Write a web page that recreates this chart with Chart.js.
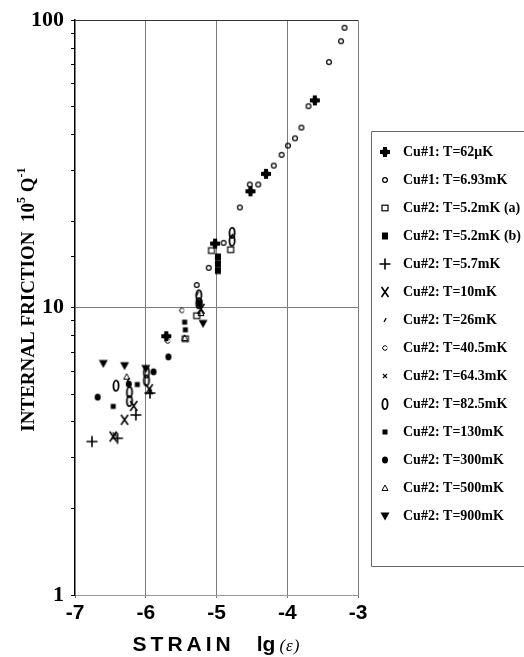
<!DOCTYPE html>
<html><head><meta charset="utf-8">
<script src="https://cdn.jsdelivr.net/npm/chart.js@4.4.0/dist/chart.umd.min.js"></script>
<style>html,body{margin:0;padding:0;background:#fff;}#wrap{position:relative;width:524px;height:657px;}</style>
</head><body><div id="wrap"><canvas id="c" width="524" height="657"></canvas></div>
<script>
// ---- data ----
const seriesLabels = ["Cu#1: T=62\u03bcK","Cu#1: T=6.93mK","Cu#2: T=5.2mK (a)","Cu#2: T=5.2mK (b)","Cu#2: T=5.7mK","Cu#2: T=10mK","Cu#2: T=26mK","Cu#2: T=40.5mK","Cu#2: T=64.3mK","Cu#2: T=82.5mK","Cu#2: T=130mK","Cu#2: T=300mK","Cu#2: T=500mK","Cu#2: T=900mK"];
const xTickValues = [-7,-6,-5,-4,-3];
const yLabelValues = [1,10,100];

const strain_cu1_62uK = [-3.61,-4.30,-4.52,-5.02,-5.71];
const friction_cu1_62uK = [52.6,29.2,25.4,16.7,7.95];
const strain_cu1_693mK = [-3.19,-3.24,-3.41,-3.70,-3.80,-3.89,-3.99,-4.08,-4.19,-4.41,-4.53,-4.67,-4.90,-5.11,-5.28];
const friction_cu1_693mK = [94.1,84.5,71.5,50.2,42.3,38.8,36.6,34.0,31.2,26.8,26.8,22.3,16.8,13.75,11.98];
const strain_cu2_52mK_a = [-5.07,-4.80,-5.28,-5.44];
const friction_cu2_52mK_a = [15.8,15.9,9.37,7.79];
const strain_cu2_52mK_b = [-4.98,-4.98,-4.98,-5.24];
const friction_cu2_52mK_b = [15.0,14.2,13.46,10.36];
const strain_cu2_57mK = [-6.76,-6.40,-6.14,-5.94];
const friction_cu2_57mK = [3.42,3.51,4.23,5.04];
const strain_cu2_10mK = [-6.46,-6.30,-6.17,-5.95,-5.22];
const friction_cu2_10mK = [3.56,4.07,4.55,5.2,9.9];
const strain_cu2_26mK = [-6.25,-5.27,-4.78];
const friction_cu2_26mK = [5.6,11.2,17.8];
const strain_cu2_405mK = [-5.49,-5.69];
const friction_cu2_405mK = [9.78,7.65];
const strain_cu2_643mK = [-6.44,-5.94];
const friction_cu2_643mK = [3.62,5.1];
const strain_cu2_825mK = [-6.42,-6.23,-6.23,-5.99,-5.99,-5.25,-5.25,-4.78,-4.78];
const friction_cu2_825mK = [5.35,5.08,4.73,5.95,5.58,11.04,10.36,18.2,17.1];
const strain_cu2_130mK = [-6.46,-6.12,-5.45,-5.44];
const friction_cu2_130mK = [4.53,5.4,8.9,8.37];
const strain_cu2_300mK = [-6.68,-6.24,-5.89,-5.68];
const friction_cu2_300mK = [4.88,5.42,5.98,6.74];
const strain_cu2_500mK = [-6.27,-5.45,-5.22];
const friction_cu2_500mK = [5.75,7.85,9.57];
const strain_cu2_900mK = [-6.60,-6.30,-6.00,-5.19];
const friction_cu2_900mK = [6.39,6.28,6.14,8.81];

const seriesX = [strain_cu1_62uK,strain_cu1_693mK,strain_cu2_52mK_a,strain_cu2_52mK_b,strain_cu2_57mK,strain_cu2_10mK,strain_cu2_26mK,strain_cu2_405mK,strain_cu2_643mK,strain_cu2_825mK,strain_cu2_130mK,strain_cu2_300mK,strain_cu2_500mK,strain_cu2_900mK];
const seriesY = [friction_cu1_62uK,friction_cu1_693mK,friction_cu2_52mK_a,friction_cu2_52mK_b,friction_cu2_57mK,friction_cu2_10mK,friction_cu2_26mK,friction_cu2_405mK,friction_cu2_643mK,friction_cu2_825mK,friction_cu2_130mK,friction_cu2_300mK,friction_cu2_500mK,friction_cu2_900mK];

// ---- marker glyphs ----
function mk(draw){const s=16;const c=document.createElement('canvas');c.width=s;c.height=s;const g=c.getContext('2d');g.translate(s/2,s/2);g.strokeStyle='#000';g.fillStyle='#000';draw(g);return c;}
const markers = [
  mk(g=>{g.fillRect(-5,-2,10,4);g.fillRect(-2,-5,4,10);g.beginPath();g.arc(0,0,3.2,0,Math.PI*2);g.fill();}),
  mk(g=>{g.lineWidth=1.2;g.beginPath();g.arc(0,0,2.4,0,Math.PI*2);g.stroke();}),
  mk(g=>{g.lineWidth=1.2;g.strokeRect(-3,-2.8,6,5.6);}),
  mk(g=>{g.fillRect(-3,-3.5,6,7);}),
  mk(g=>{g.lineWidth=1.6;g.beginPath();g.moveTo(-5.5,0);g.lineTo(5.5,0);g.moveTo(0,-5.5);g.lineTo(0,5.5);g.stroke();}),
  mk(g=>{g.lineWidth=1.6;g.beginPath();g.moveTo(-3.5,-5);g.lineTo(3.5,5);g.moveTo(3.5,-5);g.lineTo(-3.5,5);g.stroke();}),
  mk(g=>{g.lineWidth=1.3;g.beginPath();g.moveTo(-1,1.8);g.lineTo(1.2,-1.8);g.stroke();}),
  mk(g=>{g.lineWidth=1;g.beginPath();g.arc(0,0,2.3,0.3,Math.PI*2-0.3);g.stroke();}),
  mk(g=>{g.lineWidth=1.1;g.beginPath();g.moveTo(-2,-2);g.lineTo(2,2);g.moveTo(2,-2);g.lineTo(-2,2);g.stroke();}),
  mk(g=>{g.lineWidth=1.8;g.beginPath();g.ellipse(0,0,2.6,5.2,0,0,Math.PI*2);g.stroke();}),
  mk(g=>{g.fillRect(-2.5,-2.5,5,5);}),
  mk(g=>{g.beginPath();g.ellipse(0,0,3,3.5,0,0,Math.PI*2);g.fill();}),
  mk(g=>{g.lineWidth=1;g.beginPath();g.moveTo(0,-3);g.lineTo(3,2.5);g.lineTo(-3,2.5);g.closePath();g.stroke();}),
  mk(g=>{g.beginPath();g.moveTo(-4.5,-3.5);g.lineTo(4.5,-3.5);g.lineTo(0,4.5);g.closePath();g.fill();})
];

const datasets = seriesLabels.map((lab,i)=>({
  label: lab,
  data: seriesX[i].map((x,j)=>({x:x,y:seriesY[i][j]})),
  pointStyle: markers[i],
  pointRadius: 6,
  showLine: false,
  clip: false
}));

const CA = {left:75,right:358,top:14,bottom:595};

const extras = {
  id:'extras',
  afterDraw(chart){
    const ctx=chart.ctx;
    ctx.save();
    // legend box
    ctx.strokeStyle='#666';ctx.lineWidth=1;
    ctx.beginPath();ctx.moveTo(524,131.5);ctx.lineTo(371.5,131.5);ctx.lineTo(371.5,566.5);ctx.lineTo(524,566.5);ctx.stroke();
    ctx.fillStyle='#000';
    ctx.font='bold 14px "Liberation Serif", serif';
    ctx.textBaseline='middle';ctx.textAlign='left';
    seriesLabels.forEach((lab,i)=>{
      const y=152+i*28;
      const m=markers[i];
      ctx.drawImage(m,385-m.width/2,y-m.height/2);
      ctx.fillText(lab,403,y);
    });
    // x title
    const xa=chart.scales.x;
    const cx=(xa.left+xa.right)/2;
    ctx.textBaseline='alphabetic';
    ctx.font='bold 21px "Liberation Sans", Arial, sans-serif';
    ctx.letterSpacing='4px';
    const w1=ctx.measureText('STRAIN').width;
    ctx.letterSpacing='0px';
    const w2=ctx.measureText('lg').width;
    ctx.font='italic 17px "Liberation Serif", serif';
    ctx.letterSpacing='1px';
    const w3=ctx.measureText('(\u03b5)').width;
    ctx.letterSpacing='0px';
    const gap=22;
    let x0=cx-(w1+gap+w2+4+w3)/2;
    const by=651;
    ctx.font='bold 21px "Liberation Sans", Arial, sans-serif';
    ctx.letterSpacing='4px';
    ctx.fillText('STRAIN',x0,by);
    ctx.letterSpacing='0px';
    ctx.fillText('lg',x0+w1+gap,by);
    ctx.font='italic 17px "Liberation Serif", serif';
    ctx.letterSpacing='1px';
    ctx.fillText('(\u03b5)',x0+w1+gap+w2+4,by);
    ctx.letterSpacing='0px';
    // y title
    const ya=chart.scales.y;
    const cy=(ya.top+ya.bottom)/2-8;
    const runs=[
      {t:'INTERNAL FRICTION  10',f:'bold 19px "Liberation Serif", serif',dy:0},
      {t:'5',f:'bold 12px "Liberation Serif", serif',dy:-7},
      {t:' Q',f:'bold 19px "Liberation Serif", serif',dy:0},
      {t:'-1',f:'bold 12px "Liberation Serif", serif',dy:-7}
    ];
    let tw=0;runs.forEach(r=>{ctx.font=r.f;r.w=ctx.measureText(r.t).width;tw+=r.w;});
    ctx.translate(29,cy);ctx.rotate(-Math.PI/2);
    ctx.textBaseline='middle';
    let px=-tw/2;
    runs.forEach(r=>{ctx.font=r.f;ctx.fillText(r.t,px,r.dy);px+=r.w;});
    ctx.restore();
  }
};

new Chart(document.getElementById('c'),{
  type:'scatter',
  data:{datasets},
  options:{
    responsive:false,
    animation:false,
    devicePixelRatio:1,
    layout:{padding:{left:0,right:524-CA.right,top:CA.top,bottom:0}},
    plugins:{legend:{display:false},tooltip:{enabled:false},title:{display:false}},
    scales:{
      x:{
        type:'linear',min:-7,max:-3,
        afterFit(s){s.height=657-CA.bottom;},
        afterBuildTicks(s){s.ticks=xTickValues.map(v=>({value:v}));},
        ticks:{callback:v=>String(v),color:'#000',font:{family:'"Liberation Sans", Arial, sans-serif',size:21,weight:'bold'},padding:3,maxRotation:0,autoSkip:false},
        grid:{color:c=>(c.tick&&c.tick.value===-7)?'rgba(0,0,0,0)':'#7a7a7a',lineWidth:1,tickLength:3,tickColor:'#777'},
        border:{color:'#999',width:1}
      },
      y:{
        type:'logarithmic',min:1,max:100,
        afterFit(s){s.width=CA.left;},
        ticks:{
          autoSkip:false,color:'#000',padding:7,
          font:{family:'"Liberation Serif", serif',size:22,weight:'bold'},
          callback:(v)=>yLabelValues.includes(v)?String(v):''
        },
        grid:{
          color:c=>{const v=c.tick&&c.tick.value;if(v===100)return '#333';if(v===10)return '#7a7a7a';return 'rgba(0,0,0,0)';},
          lineWidth:1,tickLength:4,tickColor:'#000'
        },
        border:{color:'#000',width:1.5}
      }
    }
  },
  plugins:[extras]
});
</script></body></html>
